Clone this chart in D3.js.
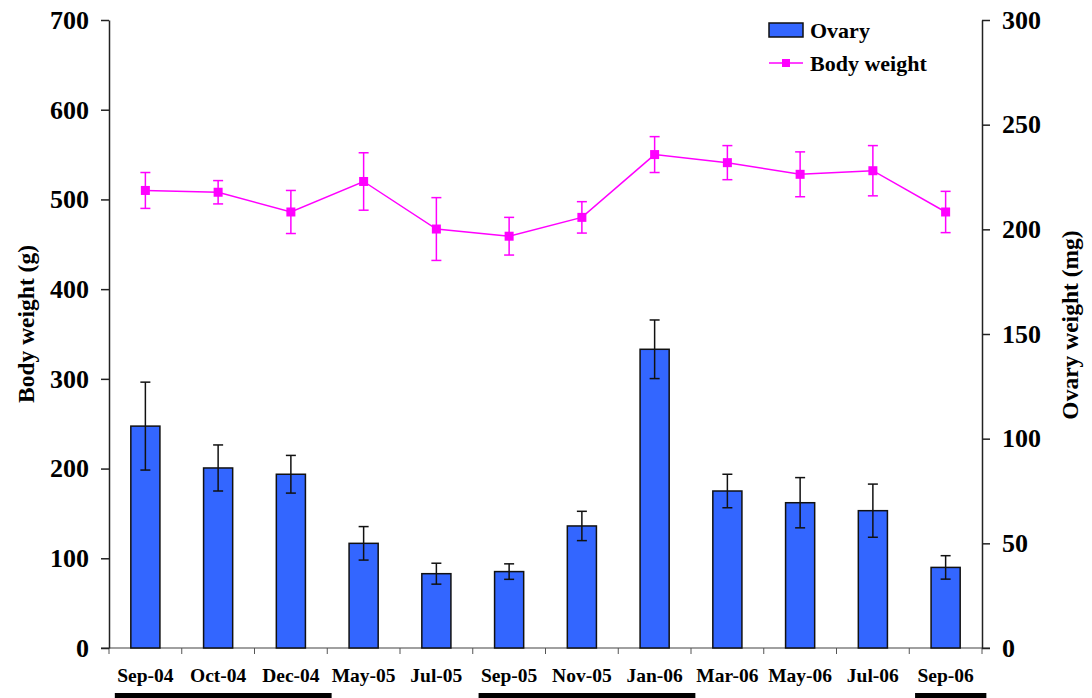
<!DOCTYPE html>
<html>
<head>
<meta charset="utf-8">
<script src="https://cdn.jsdelivr.net/npm/d3@7"></script>
<style>
  body { margin: 0; background: #fff; }
  text { font-family: "Liberation Serif", "Times New Roman", serif; font-weight: bold; }
</style>
</head>
<body>
<div id="chart-area"></div>
<script>
var months = ["Sep-04", "Oct-04", "Dec-04", "May-05", "Jul-05", "Sep-05", "Nov-05", "Jan-06", "Mar-06", "May-06", "Jul-06", "Sep-06"];
var ovary = [106, 86, 83, 50, 35.5, 36.5, 58.3, 142.7, 75, 69.4, 65.6, 38.5];
var ovaryErr = [21, 11, 9, 8, 5, 3.7, 7, 14, 8, 12, 12.7, 5.6];
var bodyWeight = [510, 508, 486, 520, 467, 459, 480, 550, 541, 528, 532, 486];
var bodyErr = [20, 13, 24, 32, 35, 21, 17.5, 20, 19, 25, 28, 23];
var leftTicks = [0, 100, 200, 300, 400, 500, 600, 700];
var rightTicks = [0, 50, 100, 150, 200, 250, 300];
// periods underlined below the month labels
var periods = [["Sep-04", "Dec-04"], ["Sep-05", "Jan-06"], ["Sep-06", "Sep-06"]];

var W = 1092, H = 698;
var plotLeft = 109, plotRight = 982, plotTop = 20, plotBottom = 648;

var svg = d3.select("#chart-area")
    .append("svg")
    .attr("width", W)
    .attr("height", H);

var x = d3.scaleBand().domain(months).range([plotLeft, plotRight]).paddingInner(0.6).paddingOuter(0.3);
var yL = d3.scaleLinear().domain([0, 700]).range([plotBottom, plotTop]);
var yR = d3.scaleLinear().domain([0, 300]).range([plotBottom, plotTop]);
var cx = function(m) { return x(m) + x.bandwidth() / 2; };

// bottom axis line + category boundary ticks
svg.append("line")
    .attr("x1", plotLeft - 8).attr("x2", plotRight + 8)
    .attr("y1", plotBottom).attr("y2", plotBottom)
    .attr("stroke", "#808080").attr("stroke-width", 1.5);

svg.selectAll(".xtick")
    .data(d3.range(months.length + 1))
    .enter().append("line")
    .attr("x1", d => plotLeft + d * x.step())
    .attr("x2", d => plotLeft + d * x.step())
    .attr("y1", plotBottom).attr("y2", plotBottom + 6)
    .attr("stroke", "#555").attr("stroke-width", 1);

// bars
svg.selectAll(".bar")
    .data(months)
    .enter().append("rect")
    .attr("x", d => x(d))
    .attr("y", (d, i) => yR(ovary[i]))
    .attr("width", x.bandwidth())
    .attr("height", (d, i) => plotBottom - yR(ovary[i]))
    .attr("fill", "#3366FF")
    .attr("stroke", "#111")
    .attr("stroke-width", 1.5);

// bar error bars
var eb = svg.append("g").attr("stroke", "#111").attr("stroke-width", 1.5);
months.forEach(function(m, i) {
    var c = cx(m);
    var t = yR(ovary[i] + ovaryErr[i]), b = yR(ovary[i] - ovaryErr[i]);
    eb.append("line").attr("x1", c).attr("x2", c).attr("y1", t).attr("y2", b);
    eb.append("line").attr("x1", c - 5).attr("x2", c + 5).attr("y1", t).attr("y2", t);
    eb.append("line").attr("x1", c - 5).attr("x2", c + 5).attr("y1", b).attr("y2", b);
});

// body weight line
var line = d3.line().x((d, i) => cx(months[i])).y(d => yL(d));
svg.append("path")
    .datum(bodyWeight)
    .attr("d", line)
    .attr("fill", "none")
    .attr("stroke", "#FF00FF")
    .attr("stroke-width", 1.5);

var lb = svg.append("g").attr("stroke", "#FF00FF").attr("stroke-width", 1.5);
months.forEach(function(m, i) {
    var c = cx(m);
    var t = yL(bodyWeight[i] + bodyErr[i]), b = yL(bodyWeight[i] - bodyErr[i]);
    lb.append("line").attr("x1", c).attr("x2", c).attr("y1", t).attr("y2", b);
    lb.append("line").attr("x1", c - 5).attr("x2", c + 5).attr("y1", t).attr("y2", t);
    lb.append("line").attr("x1", c - 5).attr("x2", c + 5).attr("y1", b).attr("y2", b);
});

svg.selectAll(".marker")
    .data(bodyWeight)
    .enter().append("rect")
    .attr("x", (d, i) => cx(months[i]) - 4.5)
    .attr("y", d => yL(d) - 4.5)
    .attr("width", 9).attr("height", 9)
    .attr("fill", "#FF00FF");

// left axis
var leftAxis = svg.append("g")
    .attr("transform", "translate(" + plotLeft + ",0)")
    .call(d3.axisLeft(yL).tickValues(leftTicks).tickSize(8).tickSizeOuter(0).tickPadding(12));
leftAxis.selectAll("text").attr("font-size", "26px").attr("fill", "#000")
    .style("font-family", "'Liberation Serif', serif").style("font-weight", "bold");

// right axis
var rightAxis = svg.append("g")
    .attr("transform", "translate(" + plotRight + ",0)")
    .call(d3.axisRight(yR).tickValues(rightTicks).tickSize(8).tickSizeOuter(0).tickPadding(12));
rightAxis.selectAll("text").attr("font-size", "26px").attr("fill", "#000")
    .style("font-family", "'Liberation Serif', serif").style("font-weight", "bold");

svg.selectAll(".domain").attr("stroke", "#222").attr("stroke-width", 1.5);
svg.selectAll(".tick line").attr("stroke", "#222").attr("stroke-width", 1.5);

// month labels
svg.selectAll(".xlabel")
    .data(months)
    .enter().append("text")
    .attr("x", d => cx(d))
    .attr("y", 682)
    .attr("text-anchor", "middle")
    .attr("font-size", "19.5px")
    .text(d => d);

// underlines
svg.selectAll(".period")
    .data(periods)
    .enter().append("rect")
    .attr("x", d => cx(d[0]) - 0.42 * x.step())
    .attr("width", d => cx(d[1]) - cx(d[0]) + 0.98 * x.step())
    .attr("y", 693)
    .attr("height", 7)
    .attr("fill", "#000");

// axis titles
svg.append("text")
    .attr("transform", "translate(34,324) rotate(-90)")
    .attr("text-anchor", "middle")
    .attr("font-size", "23.5px")
    .text("Body weight (g)");

svg.append("text")
    .attr("transform", "translate(1078,325) rotate(-90)")
    .attr("text-anchor", "middle")
    .attr("font-size", "23.5px")
    .text("Ovary weight (mg)");

// legend
var lg = svg.append("g");
lg.append("rect")
    .attr("x", 769).attr("y", 23).attr("width", 34).attr("height", 14)
    .attr("fill", "#3366FF").attr("stroke", "#111").attr("stroke-width", 1.5);
lg.append("text").attr("x", 810).attr("y", 38).attr("font-size", "22px").text("Ovary");
lg.append("line")
    .attr("x1", 769).attr("x2", 803).attr("y1", 63).attr("y2", 63)
    .attr("stroke", "#FF00FF").attr("stroke-width", 1.5);
lg.append("rect")
    .attr("x", 782).attr("y", 59).attr("width", 8).attr("height", 8)
    .attr("fill", "#FF00FF");
lg.append("text").attr("x", 810).attr("y", 71).attr("font-size", "22px").text("Body weight");
</script>
</body>
</html>
